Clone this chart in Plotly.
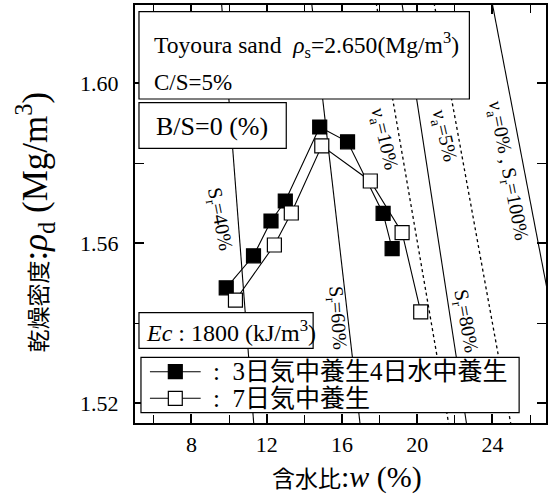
import plotly.graph_objects as go

# Compaction test results: water content w (%) vs dry density rho_d (Mg/m3)
w_cured_air_water = [9.85, 11.30, 12.23, 12.99, 14.82, 16.30, 18.19, 18.67]
rho_cured_air_water = [1.5488, 1.5568, 1.5655, 1.5705, 1.5890, 1.5853, 1.5674, 1.5586]

w_cured_air = [10.34, 12.41, 13.31, 14.93, 17.51, 19.20, 20.19]
rho_cured_air = [1.5457, 1.5595, 1.5675, 1.5843, 1.5755, 1.5626, 1.5428]

# Reference lines (degree of saturation / air void ratio), end points at rho_d = 1.62 and 1.515
rho_ends = [1.620, 1.515]
w_sr40 = [9.60, 11.31]
w_sr60 = [14.39, 16.96]
w_sr80 = [19.19, 22.62]
w_sr100 = [23.99, 28.27]
w_va5 = [20.90, 24.97]
w_va10 = [17.82, 21.67]

legend_names = [":  3日気中養生4日水中養生", ":  7日気中養生"]

FONT = "Liberation Serif, Noto Sans CJK JP, serif"

fig = go.Figure()

for wv in (w_sr40, w_sr60, w_sr80, w_sr100):
    fig.add_trace(go.Scatter(x=wv, y=rho_ends, mode="lines", showlegend=False,
                             line=dict(color="black", width=1.1), hoverinfo="skip"))
for wv in (w_va5, w_va10):
    fig.add_trace(go.Scatter(x=wv, y=rho_ends, mode="lines", showlegend=False,
                             line=dict(color="black", width=1.3, dash="dot"), hoverinfo="skip"))

series_styles = [
    (w_cured_air_water, rho_cured_air_water, "black"),
    (w_cured_air, rho_cured_air, "white"),
]
for (xs, ys, fill), name in zip(series_styles, legend_names):
    fig.add_trace(go.Scatter(
        x=xs, y=ys, mode="lines+markers", name=name, showlegend=False,
        line=dict(color="black", width=1.1),
        marker=dict(symbol="square", size=14, color=fill, line=dict(color="black", width=1.2)),
    ))

# Curve labels
curve_labels = [
    ("S<sub>r</sub>=40%", 9.50, 1.5660, 79),
    ("S<sub>r</sub>=60%", 15.72, 1.5413, 86),
    ("S<sub>r</sub>=80%", 22.58, 1.5405, 80),
    ("<i>ν</i><sub>a</sub>=10%", 18.23, 1.5859, 77),
    ("<i>ν</i><sub>a</sub>=5%", 21.40, 1.5868, 77),
    ("<i>ν</i><sub>a</sub>=0% , S<sub>r</sub>=100%", 24.84, 1.5780, 79),
]
for txt, xv, yv, ang in curve_labels:
    fig.add_annotation(x=xv, y=yv, xref="x", yref="y", text=txt, showarrow=False,
                       textangle=ang, font=dict(family=FONT, size=20, color="black"))

# Pixel positions converted to paper fractions
L, W, T, H = 135, 413, 5, 418

def px(xp):
    return (xp - L) / W

def py(yp):
    return (T + H - yp) / H

# Information boxes and legend frame
boxes = [(139, 11.7, 471, 99), (139, 102.7, 287, 148.3), (139, 312.7, 314, 348.3),
         (141, 357.3, 521, 412.7)]
for x0, y0, x1, y1 in boxes:
    fig.add_shape(type="rect", xref="paper", yref="paper",
                  x0=px(x0), x1=px(x1), y0=py(y1), y1=py(y0),
                  fillcolor="white", line=dict(color="black", width=1.2), layer="above")

box_texts = [
    ("Toyoura sand  <i>ρ</i><sub>s</sub>=2.650(Mg/m<sup>3</sup>)", 152, 45, 23.6),
    ("C/S=5%", 152, 82, 23),
    ("B/S=0 (%)", 154, 126, 26),
    ("<i>Ec</i> : 1800 (kJ/m<sup>3</sup>)", 144, 331, 24),
]
for txt, xp, yp, fs in box_texts:
    fig.add_annotation(x=px(xp), y=py(yp), xref="paper", yref="paper", text=txt,
                       showarrow=False, xanchor="left", yanchor="middle",
                       font=dict(family=FONT, size=fs, color="black"))

# Legend entries: line segment with square symbol, then label
legend_rows = [371.7, 398.3]
for (xs, ys, fill), name, yrow in zip(series_styles, legend_names, legend_rows):
    fig.add_shape(type="line", xref="paper", yref="paper",
                  x0=px(150), x1=px(201), y0=py(yrow), y1=py(yrow),
                  line=dict(color="black", width=1.1), layer="above")
    fig.add_shape(type="rect", xref="paper", yref="paper",
                  x0=px(168.5), x1=px(182.5), y0=py(yrow + 7), y1=py(yrow - 7),
                  fillcolor=fill, line=dict(color="black", width=1.2), layer="above")
    fig.add_annotation(x=px(211), y=py(yrow), xref="paper", yref="paper", text=name,
                       showarrow=False, xanchor="left", yanchor="middle",
                       font=dict(family=FONT, size=25, color="black"))

# Axis titles
fig.add_annotation(x=px(348), y=py(477), xref="paper", yref="paper",
                   text="含水比<span style='font-size:30px'>:<i>w</i> (%)</span>",
                   showarrow=False, xanchor="center", yanchor="middle",
                   font=dict(family=FONT, size=23, color="black"))
fig.add_annotation(x=px(34), y=py(222), xref="paper", yref="paper", textangle=-90,
                   text="乾燥密度<span style='font-size:35px'>:<i>ρ</i><sub>d</sub> (Mg/m<sup>3</sup>)</span>",
                   showarrow=False, xanchor="center", yanchor="middle",
                   font=dict(family=FONT, size=23, color="black"))

axis_common = dict(
    showline=True, linecolor="black", linewidth=2, mirror="ticks",
    ticks="inside", ticklen=9, tickwidth=1.6, tickcolor="black",
    showgrid=False, zeroline=False,
    tickfont=dict(family=FONT, size=22, color="black"),
)

fig.update_xaxes(
    range=[5, 26.85], tick0=0, dtick=4,
    minor=dict(dtick=2, ticks="inside", ticklen=8, tickwidth=1.4, tickcolor="black", showgrid=False),
    ticklabelstandoff=1,
    **axis_common,
)
fig.update_yaxes(
    range=[1.515, 1.6195], tick0=1.52, dtick=0.04, tickformat=".2f",
    minor=dict(dtick=0.02, ticks="inside", ticklen=9, tickwidth=1.4, tickcolor="black", showgrid=False),
    ticklabelstandoff=10,
    **axis_common,
)

fig.update_layout(
    width=550, height=504,
    margin=dict(l=L, r=550 - L - W, t=T, b=504 - T - H),
    paper_bgcolor="white", plot_bgcolor="white",
    font=dict(family=FONT, color="black"),
    showlegend=False,
)

fig.write_html("out.html")
